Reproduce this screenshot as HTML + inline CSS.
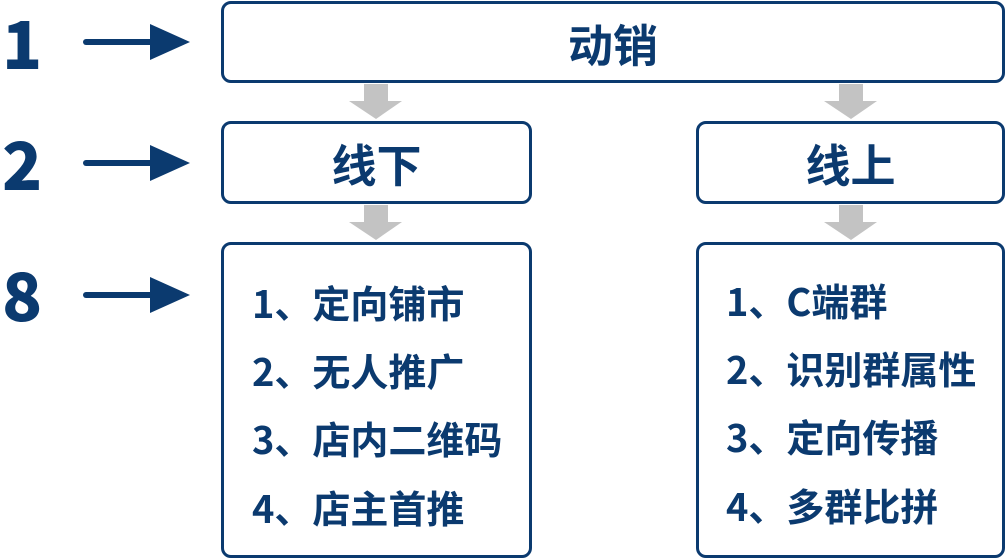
<!DOCTYPE html>
<html><head><meta charset="utf-8"><style>
body{margin:0;width:1007px;height:559px;background:#fff;position:relative;overflow:hidden;font-family:"Noto Sans CJK SC","Liberation Sans",sans-serif;color:#0b3a6f;font-weight:bold}
.b{position:absolute;border:3px solid #0b3a6f;border-radius:10px;box-sizing:border-box;background:#fff}
.c{display:flex;align-items:center;justify-content:center;font-size:45px}
.n{position:absolute;font-size:66px;line-height:66px;left:2px;font-weight:900}
.l{position:absolute;font-size:38px;line-height:40px}
svg{position:absolute;left:0;top:0}
</style></head><body>
<svg width="1007" height="559">
<g fill="#0b3a6f" stroke="#0b3a6f">
<line x1="86" y1="42" x2="155" y2="42" stroke-width="6" stroke-linecap="round"/>
<polygon points="150,24 190,42 150,60" stroke="none"/>
<line x1="86" y1="163" x2="155" y2="163" stroke-width="6" stroke-linecap="round"/>
<polygon points="150,145 190,163 150,181" stroke="none"/>
<line x1="86" y1="295" x2="155" y2="295" stroke-width="6" stroke-linecap="round"/>
<polygon points="150,277 190,295 150,313" stroke="none"/>
</g>
<g fill="#c3c3c3">
<polygon points="364,84 388,84 388,101 402,101 376,119 349,101 364,101"/>
<polygon points="364,205 388,205 388,222 402,222 376,240 349,222 364,222"/>
<polygon points="839,84 863,84 863,101 877,101 851,119 824,101 839,101"/>
<polygon points="839,205 863,205 863,222 877,222 851,240 824,222 839,222"/>
</g>
</svg>
<div class="n" style="top:8px">1</div>
<div class="n" style="top:129px">2</div>
<div class="n" style="top:260px">8</div>
<div class="b c" style="left:221px;top:1px;width:784px;height:82px">动销</div>
<div class="b c" style="left:221px;top:121px;width:311px;height:83px">线下</div>
<div class="b c" style="left:696px;top:121px;width:309px;height:83px">线上</div>
<div class="b" style="left:221px;top:242px;width:311px;height:316px"></div>
<div class="b" style="left:696px;top:242px;width:309px;height:316px"></div>
<div class="l" style="left:252px;top:282px">1、定向铺市</div>
<div class="l" style="left:252px;top:350px">2、无人推广</div>
<div class="l" style="left:252px;top:418px">3、店内二维码</div>
<div class="l" style="left:252px;top:487px">4、店主首推</div>
<div class="l" style="left:726px;top:280px">1、C端群</div>
<div class="l" style="left:726px;top:348px">2、识别群属性</div>
<div class="l" style="left:726px;top:416px">3、定向传播</div>
<div class="l" style="left:726px;top:485px">4、多群比拼</div>
</body></html>
